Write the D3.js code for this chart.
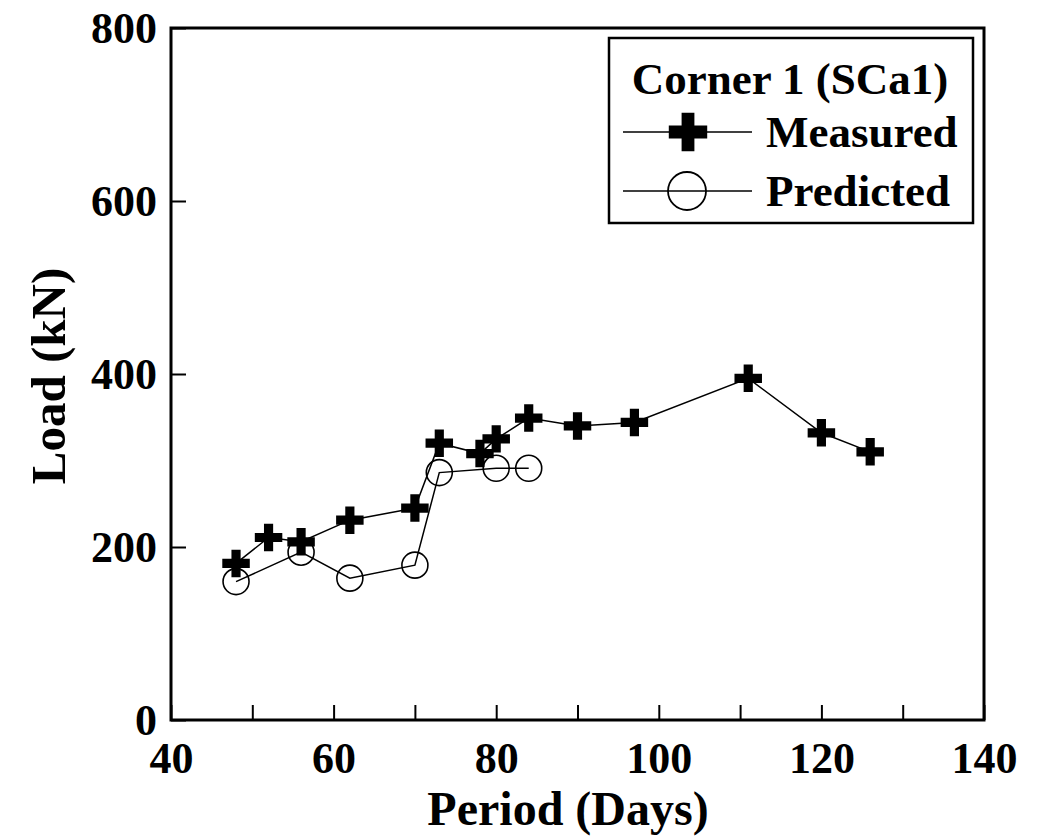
<!DOCTYPE html>
<html lang="en">
<head>
  <meta charset="UTF-8">
  <title>Corner 1 (SCa1)</title>
  <script src="https://d3js.org/d3.v7.min.js"></script>
  <style>
    body { margin: 0; background: #fff; }
    text { font-family: "Liberation Serif", "Times New Roman", serif; font-weight: bold; fill: #000; }
  </style>
</head>
<body>
  <div id="container"></div>
  <script>
    // values
    const measuredDays = [48, 52, 56, 62, 70, 73, 78, 80, 84, 90, 97, 111, 120, 126]
    const measuredLoad = [181, 211, 206, 231, 245, 320, 308, 325, 349, 340, 344, 395, 332, 310]
    const predictedDays = [48, 56, 62, 70, 73, 80, 84]
    const predictedLoad = [160, 194, 164, 179, 286, 291, 291]
    const xTicks = [40, 50, 60, 70, 80, 90, 100, 110, 120, 130, 140]
    const yTicks = [0, 200, 400, 600, 800]
    const legendTitle = 'Corner 1 (SCa1)'
    const seriesNames = ['Measured', 'Predicted']

    const measured = measuredDays.map((d, i) => ({ x: d, y: measuredLoad[i] }))
    const predicted = predictedDays.map((d, i) => ({ x: d, y: predictedLoad[i] }))

    const W = 1037, H = 840
    const plotL = 171, plotR = 984, plotT = 28, plotB = 720

    const svg = d3.select('#container').append('svg')
      .attr('width', W)
      .attr('height', H)

    const x = d3.scaleLinear().domain([40, 140]).range([plotL, plotR])
    const y = d3.scaleLinear().domain([0, 800]).range([plotB, plotT])

    // x axis, ticks pointing inward
    const gx = svg.append('g')
      .attr('transform', `translate(0,${plotB})`)
      .call(d3.axisBottom(x).tickValues(xTicks).tickSizeInner(-15).tickSizeOuter(0)
        .tickFormat(d => d % 20 === 0 ? d : ''))
    gx.select('.domain').remove()
    gx.selectAll('line').attr('stroke', '#000').attr('stroke-width', 2)
    gx.selectAll('text').attr('font-size', 44).attr('dy', 0).attr('y', 53)

    const gy = svg.append('g')
      .attr('transform', `translate(${plotL},0)`)
      .call(d3.axisLeft(y).tickValues(yTicks).tickSizeInner(-15).tickSizeOuter(0))
    gy.select('.domain').remove()
    gy.selectAll('line').attr('stroke', '#000').attr('stroke-width', 2)
    gy.selectAll('text').attr('font-size', 44).attr('x', -14).attr('dy', '0.34em')

    // frame
    svg.append('rect')
      .attr('x', plotL).attr('y', plotT)
      .attr('width', plotR - plotL).attr('height', plotB - plotT)
      .attr('fill', 'none').attr('stroke', '#000').attr('stroke-width', 3)

    svg.append('text')
      .attr('x', 568).attr('y', 825)
      .attr('text-anchor', 'middle')
      .attr('font-size', 48)
      .text('Period (Days)')

    svg.append('text')
      .attr('transform', 'translate(65,376) rotate(-90)')
      .attr('text-anchor', 'middle')
      .attr('font-size', 49)
      .text('Load (kN)')

    const line = d3.line().x(d => x(d.x)).y(d => y(d.y))
    const cross = d3.symbol(d3.symbolCross, 420)
    const bigCross = d3.symbol(d3.symbolCross, 820)

    svg.append('path').datum(predicted)
      .attr('d', line).attr('fill', 'none').attr('stroke', '#000').attr('stroke-width', 1.5)
    svg.append('path').datum(measured)
      .attr('d', line).attr('fill', 'none').attr('stroke', '#000').attr('stroke-width', 1.5)

    svg.selectAll('circle.pred').data(predicted).enter()
      .append('circle')
        .attr('class', 'pred')
        .attr('cx', d => x(d.x))
        .attr('cy', d => y(d.y))
        .attr('r', 13)
        .attr('fill', 'none')
        .attr('stroke', '#000')
        .attr('stroke-width', 1.6)

    svg.selectAll('path.meas').data(measured).enter()
      .append('path')
        .attr('class', 'meas')
        .attr('d', cross)
        .attr('transform', d => `translate(${x(d.x)},${y(d.y)})`)
        .attr('fill', '#000')

    // legend
    const lg = svg.append('g')
    lg.append('rect')
      .attr('x', 609).attr('y', 38).attr('width', 364).attr('height', 185)
      .attr('fill', '#fff').attr('stroke', '#000').attr('stroke-width', 2.5)
    lg.append('text')
      .attr('x', 790).attr('y', 94)
      .attr('text-anchor', 'middle')
      .attr('font-size', 45)
      .text(legendTitle)
    const rowY = [132, 191]
    const rows = lg.selectAll('g.row').data(seriesNames).enter()
      .append('g')
        .attr('class', 'row')
        .attr('transform', (d, i) => `translate(0,${rowY[i]})`)
    rows.append('line')
      .attr('x1', 623).attr('x2', 752)
      .attr('stroke', '#000').attr('stroke-width', 1.5)
    rows.filter((d, i) => i === 0).append('path')
      .attr('d', bigCross)
      .attr('transform', 'translate(688,0)')
    rows.filter((d, i) => i === 1).append('circle')
      .attr('cx', 687).attr('r', 19)
      .attr('fill', 'none').attr('stroke', '#000').attr('stroke-width', 1.8)
    rows.append('text')
      .attr('x', 766).attr('y', 15)
      .attr('font-size', 45)
      .text(d => d)
  </script>
</body>
</html>
